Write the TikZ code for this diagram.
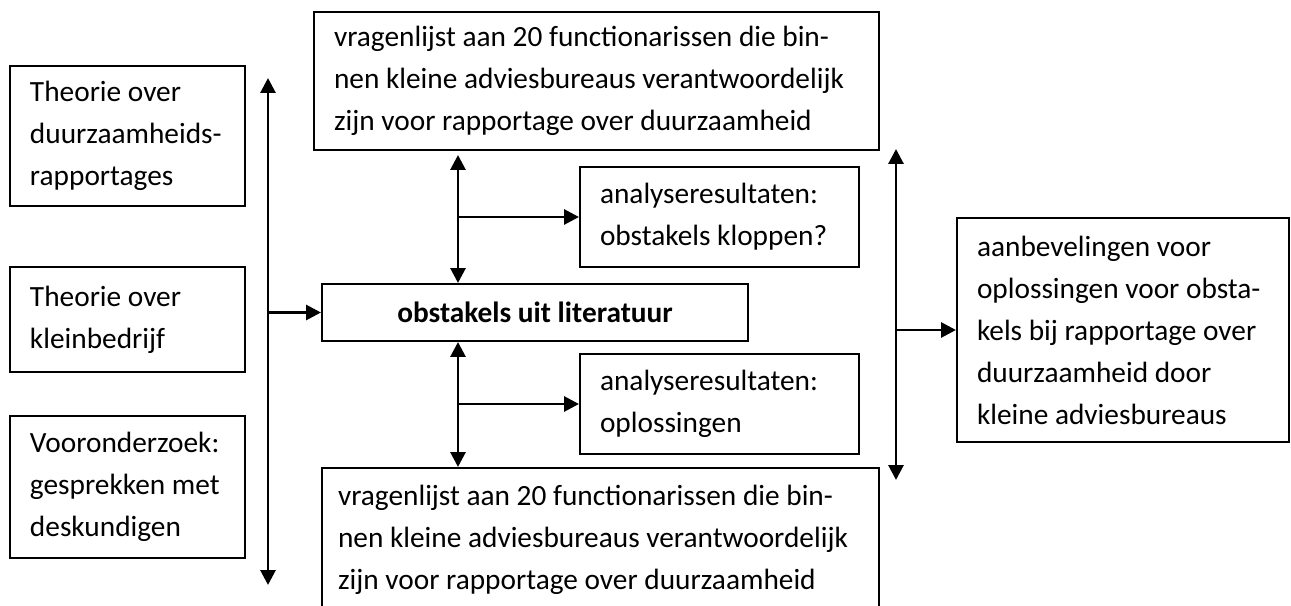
\documentclass[tikz,border=0pt]{standalone}
\usepackage{fontspec}
\setmainfont{Carlito}
\usetikzlibrary{arrows.meta}
\tikzset{box/.style={draw, line width=0.75pt, inner xsep=7.5pt, inner ysep=0pt, anchor=north west, align=flush left, font=\fontsize{11}{15.75}\selectfont}}
\tikzset{boxB/.style={box, align=flush center, font=\fontsize{11}{15.75}\selectfont\bfseries}}
\tikzset{arr/.style={line width=1.1pt, >={Triangle[length=5.6pt,width=5.6pt]}}}

\begin{document}
\begin{tikzpicture}[x=0.375pt,y=-0.375pt]
\useasboundingbox (0,0) rectangle (1291,606);
% left column
\node[box, text width=73.125pt, minimum height=52.5pt] (t1) at (9,65) {Theorie over\\duurzaamheids-\\rapportages};
\node[box, text width=73.125pt, minimum height=39.375pt] (t2) at (9,266) {Theorie over\\kleinbedrijf};
\node[box, text width=73.125pt, minimum height=53.25pt] (t3) at (9,415) {Vooronderzoek:\\gesprekken met\\deskundigen};
% middle
\node[box, text width=196.875pt, minimum height=51.75pt] (q1) at (313,11) {vragenlijst aan 20 functionarissen die bin-\\nen kleine adviesbureaus verantwoordelijk\\zijn voor rapportage over duurzaamheid};
\node[box, text width=89.625pt, minimum height=37.5pt] (a1) at (579,166) {analyseresultaten:\\obstakels kloppen?};
\node[boxB, text width=144.75pt, minimum height=21.375pt] (ob) at (321,283) {obstakels uit literatuur};
\node[box, text width=89.625pt, minimum height=37.5pt] (a2) at (579,353) {analyseresultaten:\\oplossingen};
\node[box, inner xsep=6pt, text width=196.875pt, minimum height=54pt] (q2) at (321,467) {vragenlijst aan 20 functionarissen die bin-\\nen kleine adviesbureaus verantwoordelijk\\zijn voor rapportage over duurzaamheid};
% right
\node[box, text width=109.5pt, minimum height=84pt] (rec) at (956,217) {aanbevelingen voor\\oplossingen voor obsta-\\kels bij rapportage over\\duurzaamheid door\\kleine adviesbureaus};

\coordinate (lt) at (268,78);
\coordinate (lb) at (268,585);
\coordinate (rt) at (896,149);
\coordinate (rb) at (896,480);
\coordinate (m) at (458,0);

\foreach \x/\y in {lt/lb,rt/rb}{
\draw[arr,<->] (\x)--(\y);
}
\draw[arr,<->] ([yshift=-1.5pt]q1.south -| m)--(ob.north -| m);
\draw[arr,<->] (ob.south -| m)--(q2.north -| m);
\foreach \x/\y in {lt/ob,m/a1,m/a2,rt/rec}{
\draw[arr,->] (\x |- \y.west)--(\y.west);
}
\end{tikzpicture}
\end{document}
